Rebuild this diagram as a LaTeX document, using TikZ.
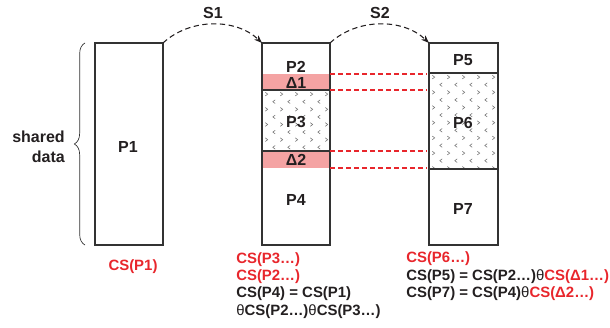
\documentclass[tikz,border=0pt]{standalone}
\usepackage{fontspec}
\setmainfont{Liberation Sans}
\usetikzlibrary{arrows.meta,decorations.pathreplacing}
\definecolor{ink}{HTML}{231F20}
\definecolor{hot}{HTML}{E8262C}
\definecolor{band}{HTML}{F4A3A3}
\definecolor{frame}{HTML}{333333}
\definecolor{dots}{HTML}{7A7A7A}
\newcommand\thet{{\mdseries θ}}
% staggered grid of small chevrons: #1,#2 = origin, #3 = columns, #4 = rows
\newcommand\chevrons[4]{%
  \foreach \r in {1,...,#4}{%
    \foreach \c in {0,...,#3}{%
      \pgfmathtruncatemacro\chk{mod(\r,2)}%
      \pgfmathsetmacro\cx{#1+15*\c+7.5*\chk-3}%
      \pgfmathsetmacro\cy{#2+7.6*\r-3.5}%
      \ifnum\chk=0
        \draw[chev] (\cx+1.2,\cy-1.8) -- ++(-2.4,1.8) -- ++(2.4,1.8);
      \else
        \draw[chev] (\cx-1.2,\cy-1.8) -- ++(2.4,1.8) -- ++(-2.4,1.8);
      \fi
    }%
  }%
}
\begin{document}
\begin{tikzpicture}[x=0.75pt,y=-0.75pt,
  block/.style={draw=frame,line width=0.9pt,inner sep=0,outer sep=0,anchor=north west,minimum width=51pt,minimum height=151.5pt},
  sep/.style={draw=frame,line width=0.9pt},
  lbl/.style={font=\bfseries\fontsize{12}{15}\selectfont,text=ink,inner sep=0},
  cs/.style={font=\bfseries\fontsize{11.2}{13}\selectfont,text=ink,inner sep=0,anchor=west},
  chev/.style={draw=dots,line width=0.45pt},
  hop/.style={draw=ink,line width=0.8pt,dash pattern=on 4pt off 2.6pt,-{Stealth[length=6pt,width=4.5pt]}},
  guide/.style={draw=hot,line width=0.8pt,dash pattern=on 3.5pt off 2.5pt},
  bracestyle/.style={draw=frame,line width=0.5pt,decorate,decoration={brace,amplitude=8pt}}]
\useasboundingbox (0,0) rectangle (610,328);

% coloured bands and hatched regions
\fill[band] (262,74) rectangle (330,90);
\fill[band] (262,151) rectangle (330,168);
\begin{scope}
  \clip (262,90) rectangle (330,151);
  \chevrons{262}{90}{5}{8}
\end{scope}
\begin{scope}
  \clip (429,73) rectangle (498,169);
  \chevrons{429}{73}{5}{13}
\end{scope}

% the three blocks
\node[block] (p1) at (95,43) {};
\node[block] (m) at (262,43) {};
\node[block,minimum width=51.75pt] (r) at (429,43) {};
\draw[sep] (262,90) -- (330,90);
\draw[sep] (262,151) -- (330,151);
\draw[sep] (429,73) -- (498,73);
\draw[sep] (429,169) -- (498,169);

% block labels
\node[lbl] (t1) at (128,147) {P1};
\node[lbl] (t2) at (296,67) {P2};
\node[lbl] (d1) at (296,83) {Δ1};
\node[lbl] (t3) at (296,122) {P3};
\node[lbl] (d2) at (296,160) {Δ2};
\node[lbl] (t4) at (296,200) {P4};
\node[lbl] (t5) at (463,60) {P5};
\node[lbl] (t6) at (463,123) {P6};
\node[lbl] (t7) at (463,209) {P7};

% hops between blocks
\node[lbl] (s1) at (213,13) {S1};
\node[lbl] (s2) at (380,13) {S2};
\draw[hop] (p1.north east) .. controls (190,18) and (236,18) .. (m.north west);
\draw[hop] (m.north east) .. controls (357,18) and (403,18) .. (r.north west);

% guide lines from the deltas
\coordinate (ga1) at (330,74);  \coordinate (gb1) at (427,74);
\coordinate (ga2) at (330,90);  \coordinate (gb2) at (427,90);
\coordinate (ga3) at (330,151); \coordinate (gb3) at (427,151);
\coordinate (ga4) at (330,168); \coordinate (gb4) at (427,168);
\draw[guide] (ga1) -- (gb1);
\draw[guide] (ga2) -- (gb2);
\draw[guide] (ga3) -- (gb3);
\draw[guide] (ga4) -- (gb4);

% shared data brace
\coordinate (bra) at (85,245);
\coordinate (brb) at (85,43);
\draw[bracestyle] (bra) -- (brb);
\node[lbl,align=right] (sd) at (38.5,147) {shared\\data};

% checksum formulas
\node[cs,text=hot,anchor=center] (c1) at (133,267) {CS(P1)};
\node[cs,text=hot] (c3) at (236,260) {CS(P3…)};
\node[cs,text=hot] (c2) at (236,277) {CS(P2…)};
\node[cs] (c4) at (236,294) {CS(P4) = CS(P1)};
\node[cs] (c4b) at (236,312) {\thet CS(P2…)\thet CS(P3…)};
\node[cs,text=hot] (c6) at (406,259) {CS(P6…)};
\node[cs] (c5) at (406,277) {CS(P5) = CS(P2…)\thet\textcolor{hot}{CS(Δ1…)}};
\node[cs] (c7) at (406,294) {CS(P7) = CS(P4)\thet\textcolor{hot}{CS(Δ2…)}};
\end{tikzpicture}
\end{document}
